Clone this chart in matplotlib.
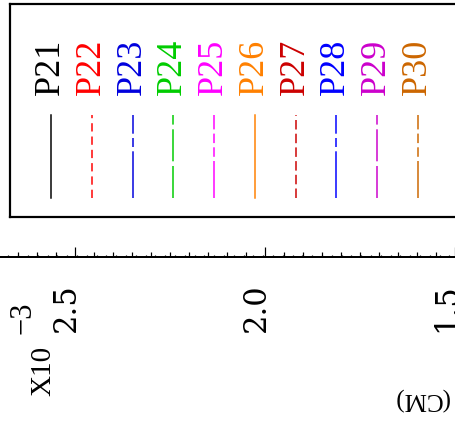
import matplotlib
matplotlib.use('Agg')
from matplotlib import pyplot as plt, ticker as tick, transforms as mtrans

# series in the key
names = ['P21', 'P22', 'P23', 'P24', 'P25', 'P26', 'P27', 'P28', 'P29', 'P30']
colors = ['#000000', '#FF0000', '#0000DD', '#00CC00', '#FF00FF',
          '#FF8000', '#CC0000', '#0000FF', '#CC00CC', '#CC6600']

# bottom axis (values shown are x10^-3, axis runs right to left)
xticks = [2.5, 2.0, 1.5]
xticklabels = ['2.5', '2.0', '1.5']
xlim = (2.6964, 1.5357)
exp_base = 'X10'
exp_power = '\u22123'
unit = '(CM)'

# dash patterns in pixels (None = solid)
dash_px = [None, (8.3, 5.0), (46.7, 4.3, 9.0, 4.3), (32.0, 4.7),
           (37.0, 4.2, 9.5, 4.2, 9.5, 4.2),
           None, (9.5, 4.2), (46.7, 4.3, 9.0, 4.3), (32.0, 4.7),
           (37.0, 4.2, 9.5, 4.2, 9.5, 4.2)]

plt.rcParams['font.family'] = ['Liberation Serif', 'DejaVu Serif']
plt.rcParams['lines.scale_dashes'] = False

W, H = 455, 427
PT = 72 / 100.  # points per pixel

fig = plt.figure(figsize=(W / 100, H / 100), dpi=100)

def fx(x):
    return x / W

def fy(y):
    return 1 - y / H

#main axis, only the bottom line with ticks
ax = fig.add_axes([0, fy(258), 1, 0.3])
ax.set_facecolor('none')
ax.set_xlim(*xlim)
ax.set_ylim(0, 1)
for s in ['left', 'right', 'top']:
    ax.spines[s].set_visible(False)
ax.spines['bottom'].set_linewidth(2 * PT)
ax.set_yticks([])
ax.set_xticks(xticks, xticklabels)
ax.xaxis.set_minor_locator(tick.MultipleLocator(0.05))
ax.tick_params(which='major', direction='in', length=10 * PT, width=1.2 * PT,
               pad=25 * PT, labelsize=22, labelrotation=90)
ax.tick_params(which='minor', direction='in', length=5 * PT, width=1.2 * PT)
for lab in ax.get_xticklabels():
    lab.set_family(['DejaVu Serif'])
    lab.set_rotation_mode('anchor')
    lab.set_ha('right')
    lab.set_va('baseline')

#smallest ticks on an overlaid axes
ax2 = fig.add_axes([0, fy(258), 1, 0.3])
ax2.set_facecolor('none')
ax2.set_xlim(*xlim)
for s in ax2.spines.values():
    s.set_visible(False)
ax2.set_yticks([])
ax2.xaxis.set_major_locator(tick.NullLocator())
ax2.xaxis.set_minor_locator(tick.MultipleLocator(0.025))
ax2.tick_params(which='minor', direction='in', length=2.5 * PT, width=1.2 * PT)

#exponent and unit
fig.text(fx(50), fy(396), exp_base, rotation=90, rotation_mode='anchor',
         ha='left', va='baseline', fontsize=21)
fig.text(fx(31), fy(334), exp_power, rotation=90, rotation_mode='anchor',
         ha='left', va='baseline', fontsize=22)
fig.text(fx(393), fy(392), unit, rotation=180, rotation_mode='anchor',
         ha='right', va='baseline', fontsize=18)

#key box
lg = fig.add_axes([fx(10), fy(218), fx(470 - 10), (218 - 5) / H])
lg.set_xlim((10 - 51) / 40.78, (470 - 51) / 40.78)
lg.set_ylim(218, 5)
lg.set_xticks([])
lg.set_yticks([])
for s in lg.spines.values():
    s.set_linewidth(2.2 * PT)

shift = mtrans.ScaledTranslation(8 / 100, 0, fig.dpi_scale_trans)
for i, (name, c, d) in enumerate(zip(names, colors, dash_px)):
    line, = lg.plot([i, i], [199.3, 116], color=c, lw=1.5 * PT)
    if d is not None:
        line.set_dashes([v * PT for v in d])
    lg.text(i, 95, name, color=c, fontsize=26, rotation=90,
            rotation_mode='anchor', ha='left', va='baseline',
            transform=lg.transData + shift)

fig.savefig('out.png', dpi=100)
